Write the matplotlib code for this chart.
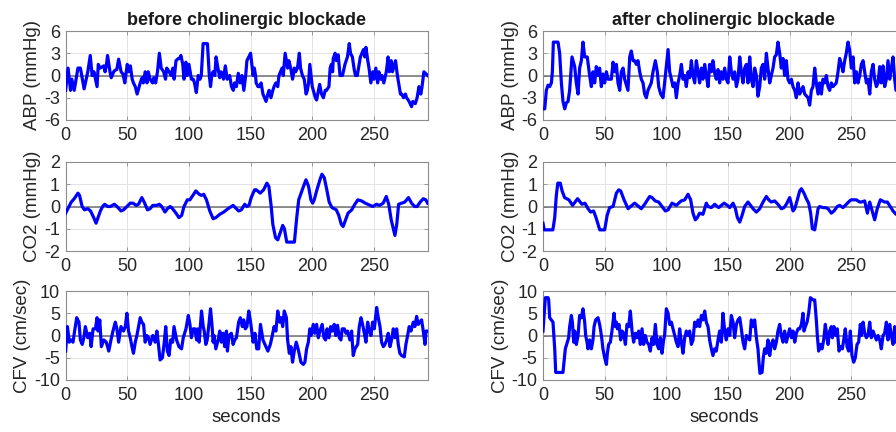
import matplotlib
matplotlib.use("Agg")
import matplotlib.pyplot as plt
import numpy as np

plt.rcParams['font.family'] = ['Liberation Sans', 'DejaVu Sans']
plt.rcParams['axes.unicode_minus'] = False

# ---------------- data (seconds, value) ----------------
abp_before = [(0,-2),(2,1),(4,-2),(5,-0.5),(7,-2),(10,1),(12,1),(15,-1.8),(18,0.5),(20,2.7),(21.5,0),(23,0.5),
 (25.5,-1.5),(26.5,1.5),(28,1),(31,1.3),(32,0.5),(33,1.3),(34,2.7),(36,0.5),(37,-0.3),(39,0.5),(40,0.7),(41.5,0.8),
 (43,2.2),(45,0.5),(46.5,0.2),(48,-1),(50,1.5),(51,0.5),(52.5,1.3),(54,-0.5),(55,-1),(56.5,-1.5),(58,-2.5),(60.5,-1),
 (62,-0.3),(63,-1),(64.5,0.5),(66,-1),(67,0.5),(68.5,-0.5),(70.5,-1),(71.5,-0.3),(73,-1),(74.5,0.5),(76,3),(77.5,1),
 (79.5,0.5),(81,-0.5),(82,1),(84,0.5),(85.5,0),(87,1),(88,-0.5),(89.5,2),(91.5,2.3),(92.5,2.3),(93.5,2.7),(95,1.5),
 (96,-0.5),(97.5,1.8),(98.5,0),(100,1.5),(102,-0.5),(103.5,-0.5),(104.5,-1),(106,-2.3),(107.5,0),(109,-0.5),(110,0),
 (111.5,4.3),(115,4.3),(116.5,0),(117.5,-1.5),(118.5,0),(119.5,0.5),(121,0),(122,2.5),(123.5,1),(125,-0.3),(126,0.5),
 (127.5,0.2),(128,-0.5),(129.5,1.3),(131,-0.5),(133,0),(134.5,-1.5),(136,-2),(137,-1),(138.5,-1.5),(140,0.3),
 (141.5,-1),(143,0),(144.5,-2),(146,0),(147,2),(148.5,2.5),(150,3),(151,1.5),(152,0),(153,1),(154,0),(154.5,-1),
 (156,-1.5),(157,-1.5),(158.5,-1),(160,-2.5),(162.5,-3.5),(164,-2.5),(165,-2),(166.5,-3),(168,-2),(169,-1.5),
 (170.5,-1),(172,-1.5),(173,0),(175.5,1),(176.5,0),(178,3),(180,1),(181,2),(182.5,1),(184,-0.5),(185.5,1),(186.5,0.5),
 (188,1),(189.5,3),(190.5,1),(192,0),(193.5,-0.5),(195,-2.5),(196,-2),(197,-1),(198,1.5),(200,-1.5),(202.5,-3),
 (203.5,-3.3),(205,-2),(206,-1.2),(207.5,-2.5),(209,-3),(210.5,-2),(211.5,-2),(213.5,-1.5),(214.5,1),(215.5,1.5),
 (216.5,0.5),(217,2.3),(218.5,3),(219.5,2),(221,2.8),(222.5,0),(224.5,0),(226.5,1.5),(228.5,2.5),(230,4.3),(231,3),
 (232.5,2.5),(234,0.8),(235,0),(236.5,0),(238,1.5),(239,2.5),(241.5,3.5),(242.5,2.5),(243.5,3.8),(245,2),(246,1),
 (247.5,-1),(249,0.5),(250,-0.5),(251.5,1),(253,-1),(254,0.5),(255.5,-0.5),(256.5,0),(258,-1),(260,0.5),(261.5,2.5),
 (262.5,0.5),(264,2),(265,0.5),(267.5,2),(269,0),(270,-1),(271.5,-2.5),(272.5,-2.5),(274,-3),(275.5,-2.5),(276.5,-3),
 (278.5,-3.5),(280.5,-4.2),(281.5,-3.5),(283.5,-3.8),(285,-3),(286.5,-1.5),(288,-2.5),(289,-1.5),(290.5,0.5),(293.5,0)]

co2_before = [(0,-0.3),(2.7,0),(4.6,0.2),(7,0.35),(10,0.6),(11.3,0.5),(13.4,0),(15.3,-0.15),(18,-0.1),(20.2,-0.2),
 (22.8,-0.5),(24.7,-0.75),(26.3,-0.5),(28.2,-0.2),(30,0),(31.7,0.1),(34.1,0),(36.3,0),(39.5,0.1),(41.7,0),(44.9,-0.2),
 (47,-0.15),(49.7,0),(52.4,0.15),(54.6,0.15),(57.3,0.05),(59.1,0.1),(61.8,0.4),(63.7,0.2),(66.4,-0.15),(68.5,-0.1),
 (70.7,0.05),(73.9,0.05),(76,0.1),(77.9,0),(80.6,-0.25),(82.5,-0.1),(84.7,0),(86,-0.05),(89.5,-0.3),(91.9,-0.5),
 (94.1,-0.4),(96,0),(98.7,0.3),(100.8,0.3),(105.6,0.7),(108.3,0.55),(110.2,0.5),(112,0.55),(114.2,0.3),(116.9,-0.2),
 (119.6,-0.55),(121.8,-0.5),(125,-0.35),(128.2,-0.25),(131.7,-0.1),(134.4,0),(135.8,0.05),(137.6,-0.05),(140.3,-0.2),
 (142.5,-0.15),(145.2,0.1),(147,0),(148.7,0.05),(150.5,0.4),(153.2,0.75),(154.6,0.75),(157.8,0.6),(160.5,0.75),
 (163.2,1.05),(164.8,0.9),(166.7,0),(168,-0.8),(170.2,-1.4),(172,-1.5),(173.9,-1.2),(176,-0.85),(177.4,-1.0),
 (179.3,-1.6),(185.5,-1.6),(187.4,-0.5),(189,0.3),(190.9,0.6),(193.5,1.0),(194.9,1.2),(197,0.9),(198.9,0.3),
 (200.3,0.15),(201.6,0.3),(203.5,0.7),(206.2,1.2),(207.8,1.45),(209.7,1.3),(211.6,0.8),(213.7,0.2),(216,-0.05),
 (219.5,-0.15),(221.5,-0.4),(223.5,-0.8),(225,-0.9),(227,-0.6),(229,-0.3),(232,-0.15),(234.5,0.1),(237,0.3),
 (240,0.25),(243,0.15),(245,0.1),(249,0.0),(252,0.1),(254.5,0.05),(257.5,0.15),(260,0.45),(262,0.1),(264,-0.6),
 (267,-1.3),(268.5,-0.8),(270,0.1),(272.5,0.15),(275,0.2),(278,0.4),(280.5,0.15),(283,0.0),(285,0.0),(287.5,0.2),
 (290,0.35),(292,0.3),(293.5,0.15)]

cfv_before = [(0,-3.5),(1.5,2),(3,-1.5),(4.5,-1),(6,-1.5),(7.3,1),(9,4),(10.8,3),(12,-1),(13.5,-2),(14.8,-0.5),(16,2),
 (18,-0.5),(19.6,0.5),(20.7,-2.5),(22.3,1.5),(24.2,1.5),(25.5,4),(26.3,1),(27.7,3.5),(29,-2.5),(31,-1),(33,-1.5),
 (35,-3.5),(36.8,-1),(38.4,1),(40.3,3),(41.6,1.5),(43,-1.5),(44.9,2),(47,1),(48.4,2),(49.7,5),(51,1),(52.4,-0.5),
 (53.8,-2.5),(55,-4),(56.5,-1.5),(57.8,0),(60.5,4),(61.8,3),(63.2,2.5),(64.5,-1.5),(65.9,0),(67.2,-0.5),(68.5,-2),
 (70.7,0),(72.6,-1.5),(74,1),(75.3,-2),(76.6,-5.5),(78.5,-5),(79.8,-2),(81.2,2),(82.5,-3.5),(83.9,-4.5),(85.2,-1),
 (86.8,-1.5),(87.9,2),(90,-1),(91.9,-2.5),(94,-3),(95.4,-0.5),(97.6,1.5),(99.5,4.5),(100.8,2.5),(102,-0.5),(103.5,1.5),
 (104.8,1.5),(106.2,-1),(107,1.5),(108.3,-1.5),(110.2,5.5),(111.6,2),(112.4,1),(113.7,-2),(114.8,-1),(116.4,3),
 (117.5,6),(118.8,2),(119.6,-1.5),(120.4,0),(121.8,-3),(123.7,-1),(125,1),(126.3,-1.5),(127.7,0.5),(129,-2.5),
 (130.4,1),(131.2,-3.5),(132.5,0),(134.4,0.5),(135.8,-2),(137.1,-1),(138.5,-0.5),(140.3,3),(141.7,4),(143.3,2),
 (144.4,3.5),(145.7,1.5),(147,2),(148.5,5.5),(150,3),(152,-1.5),(153.5,0.5),(155,-3),(156.5,-3),(158,2.5),(160,-1),
 (161.6,-2),(164,-3.5),(166,-2),(167.6,0),(169,2),(170.5,1),(172,5.5),(173.5,3),(174.8,4),(176,2),(177.3,5.5),(179,4),
 (180,-1),(181.4,-4),(182.7,-2.5),(184,-6),(185.4,-3.5),(187,-1.5),(188.5,-3),(190.8,-6),(192.7,-6.5),(194,-6),
 (195.4,-3),(196.8,-1.5),(198,1.5),(199,0),(200.8,2.5),(202,0.5),(203.5,2.5),(204.9,-0.5),(206.2,1),(208,2.5),
 (209.5,-0.5),(210.8,-1),(212,1.5),(213.5,-0.5),(214.9,2),(216.2,1),(217.8,2.5),(219,0),(220.5,2.3),(221.9,-0.5),
 (223.2,-1),(224.3,1.5),(226,1.5),(227.3,0.5),(228.6,1),(230.5,-1),(231.9,1),(233.2,-4.5),(234.6,-3),(236.8,-2),
 (238.1,2),(239.5,4),(240.8,2.5),(242.2,0.5),(243.5,-1.5),(244.9,3),(246.2,1),(247.6,0),(248.9,3),(250.3,1.5),
 (252.2,6.3),(253.5,4),(254.9,2),(256.2,-1.5),(257.6,-2.5),(258.9,-2),(260.3,-1),(261.6,0.5),(263,-2.5),(264.3,-1),
 (265.7,1.5),(267,-0.5),(268.4,1.5),(269.7,-2),(271,-4),(272.4,-4.5),(274.6,-4.8),(275.9,-2),(277.3,0),(278.6,2),
 (280,1),(281.9,3),(283.2,2),(284.6,4.3),(285.9,2.5),(288.6,3.5),(290,1),(291.4,-2),(292.2,1),(293.5,1)]

abp_after = [(0,-4.5),(1.4,-4.5),(2.7,-2),(4.1,-1.3),(5.4,-1.5),(6.8,-1),(7.6,0.5),(8.4,4.5),(12.2,4.5),(13.5,3),
 (14.9,-1),(16.2,-3.5),(17.6,-4.5),(18.9,-3.7),(20.3,-3.5),(21.6,-2),(23.5,2.5),(25.7,1.2),(27,-1),(28.4,-2.5),(29.7,1),
 (31.1,2),(32.4,4.5),(33.8,2.5),(35.9,2.5),(37.8,0),(39.2,-1.5),(40.5,0.5),(41.9,-1),(43.2,1.2),(44.6,0),(45.9,1),
 (47.3,-1.5),(48.6,0.2),(50,-1),(51.4,0.5),(52.7,-0.5),(55.4,-0.5),(56.8,1.8),(58.1,0.5),(59.5,1.5),(60.8,-1),(62.2,-2),
 (63.5,0.5),(64.9,1),(66.2,-0.5),(68.9,-2),(70.3,2.5),(71.6,3.3),(73,2),(74.3,2),(75.7,1.5),(77,2),(78.4,0.5),
 (79.7,-0.5),(81.1,-1),(82.4,-2.5),(83.8,-3),(85.1,-2),(87.8,-1),(89.2,0.5),(91.1,2),(92.7,0.5),(93.8,-1.5),(95.4,-2.5),
 (97.3,-3),(98.6,-1),(101.4,3.5),(102.7,0.5),(104.1,-0.5),(105.4,-1.5),(106.8,-1),(108.1,-3),(109.5,-1),(110.8,0),
 (112.2,1.5),(113.5,-0.5),(114.9,0),(116.2,-1.5),(117.6,0.5),(118.9,-0.3),(120.3,2),(121.6,0),(123,-1),(124.3,2),
 (125.7,0.5),(127,-1),(128.4,1),(129.7,-0.5),(131.1,1.5),(132.4,0),(133.8,-1.5),(135.1,1.5),(136.5,0.5),(137.8,2),
 (139.2,0.3),(140.5,-0.5),(141.9,0.8),(143.2,-1),(144.6,0.5),(145.9,-0.5),(147.3,1),(148.6,-0.5),(150,-1),(151.4,2.5),
 (152.7,0.5),(154.1,-0.5),(155.4,0.5),(156.8,-1.5),(158.1,-0.5),(159.5,2.5),(160.8,0.5),(162.2,-1),(163.5,1),
 (164.9,1.5),(166.2,-1),(167.6,2.5),(168.9,-0.5),(170.3,-1.5),(171.6,1),(173,0),(174.3,-2.8),(175.7,-1.5),(177,1),
 (178.4,1.5),(179.7,-0.5),(181.1,3),(182.4,1),(183.8,-1),(185.1,0),(186.5,1),(187.8,2.5),(189.2,2.8),(190.5,4.5),
 (191.9,3),(193.2,1),(194.6,2.3),(195.9,0),(197.3,2),(198.6,-0.5),(200,-1),(201.4,-0.5),(202.7,-1.5),(204.1,-2),
 (205.4,-3),(206.8,-1),(208.1,-2.5),(209.5,-2),(210.8,-1.5),(212.2,-2.5),(214.9,-3),(216.2,-4),(217.6,-2),(218.9,-1.5),
 (220.3,1),(221.6,-1),(223,-2.5),(224.3,-1),(225.7,-2.5),(227,-0.5),(228.4,-1),(229.7,0),(231.1,-1.5),(232.4,-2),
 (233.8,-1),(235.1,-1.5),(237.8,-1),(239.2,0.5),(240.5,2.3),(241.9,1.5),(243.2,0.5),(244.6,2),(245.9,3),(247.3,4.5),
 (248.6,3.5),(250,1),(251.4,2.5),(252.7,-1),(254.1,0.5),(255.4,-1),(256.8,0),(258.1,1.5),(259.5,2),(260.8,0.5),
 (262.2,-1),(263.5,-0.5),(264.9,-2.5),(266.2,0.5),(267.6,1.5),(268.9,-0.5),(270.3,-1.5),(271.6,-1),(273,1.2),
 (274.3,-1),(275.7,1.3),(277,-1.5),(278.4,-0.5),(279.7,2),(281.1,-0.5),(282.4,1),(283.8,2.5),(285.1,-0.5),(286.2,-2),
 (293,-1)]

co2_after = [(0,-0.75),(1,-1.05),(8,-1.05),(9.5,-0.5),(10.8,0.5),(12,1.05),(14,1.05),(15.5,0.7),(17.5,0.4),(21,0.3),
 (24,0.05),(28,0.35),(31.6,0.1),(34,0.15),(36.5,-0.1),(38.6,-0.25),(41,-0.2),(43,-0.5),(46,-1.05),(50,-1.05),(52,-0.4),
 (54,-0.05),(56.8,0.0),(59.5,0.6),(61.4,0.75),(63,0.7),(65.7,0.3),(69,-0.1),(71,0.0),(74.3,0.15),(76.5,0.05),
 (79.7,-0.1),(82.4,0.1),(86.5,0.45),(88.4,0.4),(91,0.25),(93.8,0.2),(96.5,0.0),(99.2,-0.2),(101.4,-0.15),(104.6,0.15),
 (108.1,0.05),(112,0.25),(114.9,0.3),(117.6,0.55),(119.7,0.3),(121.6,-0.3),(123.5,-0.6),(125.1,-0.5),(127,-0.3),
 (129.7,-0.35),(132.4,0.15),(133.8,0.0),(136.5,-0.05),(139.2,0.1),(142.4,-0.05),(146.8,0.15),(149.5,0.05),
 (151.4,-0.05),(154.1,0.15),(156,-0.1),(157.6,-0.5),(159.5,-0.7),(161.4,-0.4),(163.5,0.0),(166.2,0.2),(167.6,0.1),
 (170.3,-0.1),(173,-0.25),(175.7,-0.1),(178.4,0.2),(181.1,0.45),(183,0.3),(185.1,0.2),(187.8,0.25),(190.5,0.1),
 (193.2,-0.1),(195.4,-0.05),(197.3,0.1),(200,0.4),(201.4,0.1),(202.7,-0.2),(204.1,-0.1),(206.2,0.3),(208.1,0.7),
 (209.5,0.8),(211.6,0.6),(213.5,0.35),(215.4,0.15),(217,-0.3),(218.4,-1.0),(220.3,-1.05),(221.6,-0.6),(223,-0.1),
 (224.3,0.0),(227,-0.05),(228.9,-0.05),(231.1,-0.1),(233.8,-0.3),(235.9,-0.2),(238.6,0.0),(240.5,0.05),(243.2,-0.05),
 (245.1,0.05),(248.6,0.25),(250,0.3),(254,0.3),(256.8,0.2),(258,0.2),(260.8,0.25),(263,-0.3),(264.9,0.2),(268.9,-0.6),
 (271,-0.1),(273.5,0.3),(277,0.2),(279.2,0.2),(283.8,-0.2),(286.2,-0.35),(293,-0.3)]

cfv_after = [(0,1),(1.9,8.5),(4.1,8.5),(4.6,8),(5.4,4),(6.8,3.5),(8.1,3),(9.5,-3),(10.3,-8.3),(16.2,-8.3),(18.1,-3),
 (19.7,-1.5),(20.8,-0.5),(21.6,2),(23,4.5),(23.8,3),(24.9,-1.5),(25.7,1),(27,-2),(28.4,0),(29.7,4.5),(31.1,4),(32.4,6),
 (33.8,3),(34.6,0),(35.7,-1.5),(36.5,-3),(37.8,-1),(39.2,-3),(40.5,-1),(41.4,2),(42.7,3.5),(44.6,4),(45.9,2.5),(46.8,1),
 (47.8,-1),(48.6,-3),(50,-5),(51.4,-6.5),(52.2,-4),(53.2,-2),(54.6,-1.5),(55.9,1),(57.6,5),(58.6,2),(59.5,3),(60.3,1.5),
 (61.6,2.5),(63,-1),(64.1,1),(65.4,0.5),(66.8,-2),(68.1,2.5),(69.5,2),(70.8,5.5),(72.2,1),(73.5,-1.5),(74.9,0.5),
 (76.2,-0.5),(77.6,1),(78.9,-2),(80.3,1.5),(81.6,-2),(83,0),(84.3,-1.5),(85.7,-2),(87,-3.5),(88.4,-0.5),(89.7,-2),
 (91.1,2.5),(92.4,-2),(93.8,-3),(95.1,-0.5),(96.5,-4),(97.8,-1),(98.6,0),(100,6),(101.4,5),(102.7,2.5),(104.1,3),
 (105.4,1.5),(106.8,0),(108.1,-1.5),(109.5,-2.5),(110.8,1.5),(112.2,-1.5),(113.5,-4),(114.9,-0.5),(116.2,1),(117.6,0),
 (118.9,1),(120.3,-2),(121.6,-1),(123,3),(124.3,2),(125.7,3.5),(127,2),(128.4,4.5),(129.7,3.5),(131.1,5.5),(132.4,3),
 (133.8,2),(135.1,-1),(136.5,-3),(137.8,-4.5),(139.2,-3),(140.5,-3.5),(141.9,-1),(143.2,1),(144.6,-1.5),(145.9,5),
 (147.3,1),(148.6,-1),(150,1.5),(151.4,0),(152.7,4.5),(154.1,3),(155.4,-0.5),(156.8,2.5),(158.1,3.5),(159.5,4),
 (160.8,1.5),(162.2,-1.5),(163.5,-3),(164.9,0),(166.2,-0.5),(167.6,-1),(168.9,3.5),(170.3,2),(171.6,3.5),(173,-0.5),
 (174.3,-3),(175.1,-6),(175.9,-8.5),(177.6,-8.3),(178.6,-5),(179.7,-3),(181.1,-4),(182.4,-1),(183.8,-4.5),(185.1,-2),
 (186.5,-1),(187.8,-3),(189.2,-1.5),(190.5,1),(191.9,2.5),(193.2,0),(194.6,-1.5),(195.9,1),(197.3,-1.5),(198.6,0),
 (200,1.5),(201.4,-0.5),(202.7,1),(204.1,-1.5),(205.4,0.5),(206.8,1.5),(208.1,1.5),(209.5,2.5),(210.8,5),(211.6,1),
 (212.7,2),(214.1,3),(215.4,5),(216.8,8.5),(218.9,8),(220.3,8),(221.6,3.5),(222.4,0),(223.5,-3.5),(224.9,-2),
 (226.2,-3),(227.6,-1),(228.9,2.5),(230.3,-0.5),(231.1,-2),(232.4,1),(233.8,2),(234.6,-0.5),(235.9,2),(237.3,0),
 (238.6,1.5),(240,-3.5),(241.4,-2.5),(242.7,-3),(244.1,-0.5),(245.1,1.5),(246.5,-2.5),(247.8,-3.5),(249.2,1),
 (250.5,-4.5),(251.9,-6),(253.2,-5),(254.6,-2),(255.9,-1.5),(257.3,2.5),(258.1,0),(259.5,3),(260.8,0.5),(262.2,-0.5),
 (263.5,0),(264.9,3),(266.2,-0.5),(267.6,1),(268.9,0),(270.3,-1),(271.6,0),(273,-1),(274.3,-3),(275.7,0),(277,0.5),
 (278.4,3),(279.7,-1),(281.1,2.5),(282.4,0),(283.8,-2),(285.1,2),(286.2,-1.5),(293,0)]

titles = ["before cholinergic blockade", "after cholinergic blockade"]
ylabels = ["ABP (mmHg)", "CO2 (mmHg)", "CFV (cm/sec)"]
xlabel = "seconds"
yticks = [[-6, -3, 0, 3, 6], [-2, -1, 0, 1, 2], [-10, -5, 0, 5, 10]]
xticks = [0, 50, 100, 150, 200, 250]

series = [[abp_before, co2_before, cfv_before], [abp_after, co2_after, cfv_after]]

# ---------------- layout (pixels) ----------------
W, H = 896, 432
fig = plt.figure(figsize=(W / 100, H / 100), dpi=100)
col_left = [65.6, 543.0]
row_top = [31.0, 162.0, 291.0]
ax_w, ax_h = 362.0, 89.0

BLUE = "#0000FF"
for c in range(2):
    for r in range(3):
        ax = fig.add_axes([col_left[c] / W, (H - row_top[r] - ax_h) / H, ax_w / W, ax_h / H])
        t, v = zip(*series[c][r])
        ax.plot(t, v, color=BLUE, lw=2.3, solid_joinstyle="round", zorder=3)
        ax.axhline(0, color="#707070", lw=1.1, zorder=2)
        ax.set_xlim(0, 293.5)
        yt = yticks[r]
        ax.set_ylim(yt[0], yt[-1])
        ax.set_yticks(yt)
        ax.set_xticks(xticks)
        ax.grid(True, color="#E3E3E3", lw=0.7, zorder=0)
        ax.set_axisbelow(True)
        ax.tick_params(direction="in", length=3, width=0.6, color="#8C8C8C",
                       labelcolor="#262626", labelsize=13, top=True, right=True)
        ax.tick_params(axis="x", pad=5)
        ax.tick_params(axis="y", pad=4)
        for s in ax.spines.values():
            s.set_color("#8C8C8C")
            s.set_linewidth(0.8)
        ax.set_ylabel(ylabels[r], fontsize=13.5, color="#262626", labelpad=2)
        if r == 0:
            ax.set_title(titles[c], fontsize=13, fontweight="bold", color="#1a1a1a", pad=4)
        if r == 2:
            ax.set_xlabel(xlabel, fontsize=13.5, color="#262626")
            ax.xaxis.set_label_coords(0.5, -0.33)

fig.savefig("out.png", dpi=100)
